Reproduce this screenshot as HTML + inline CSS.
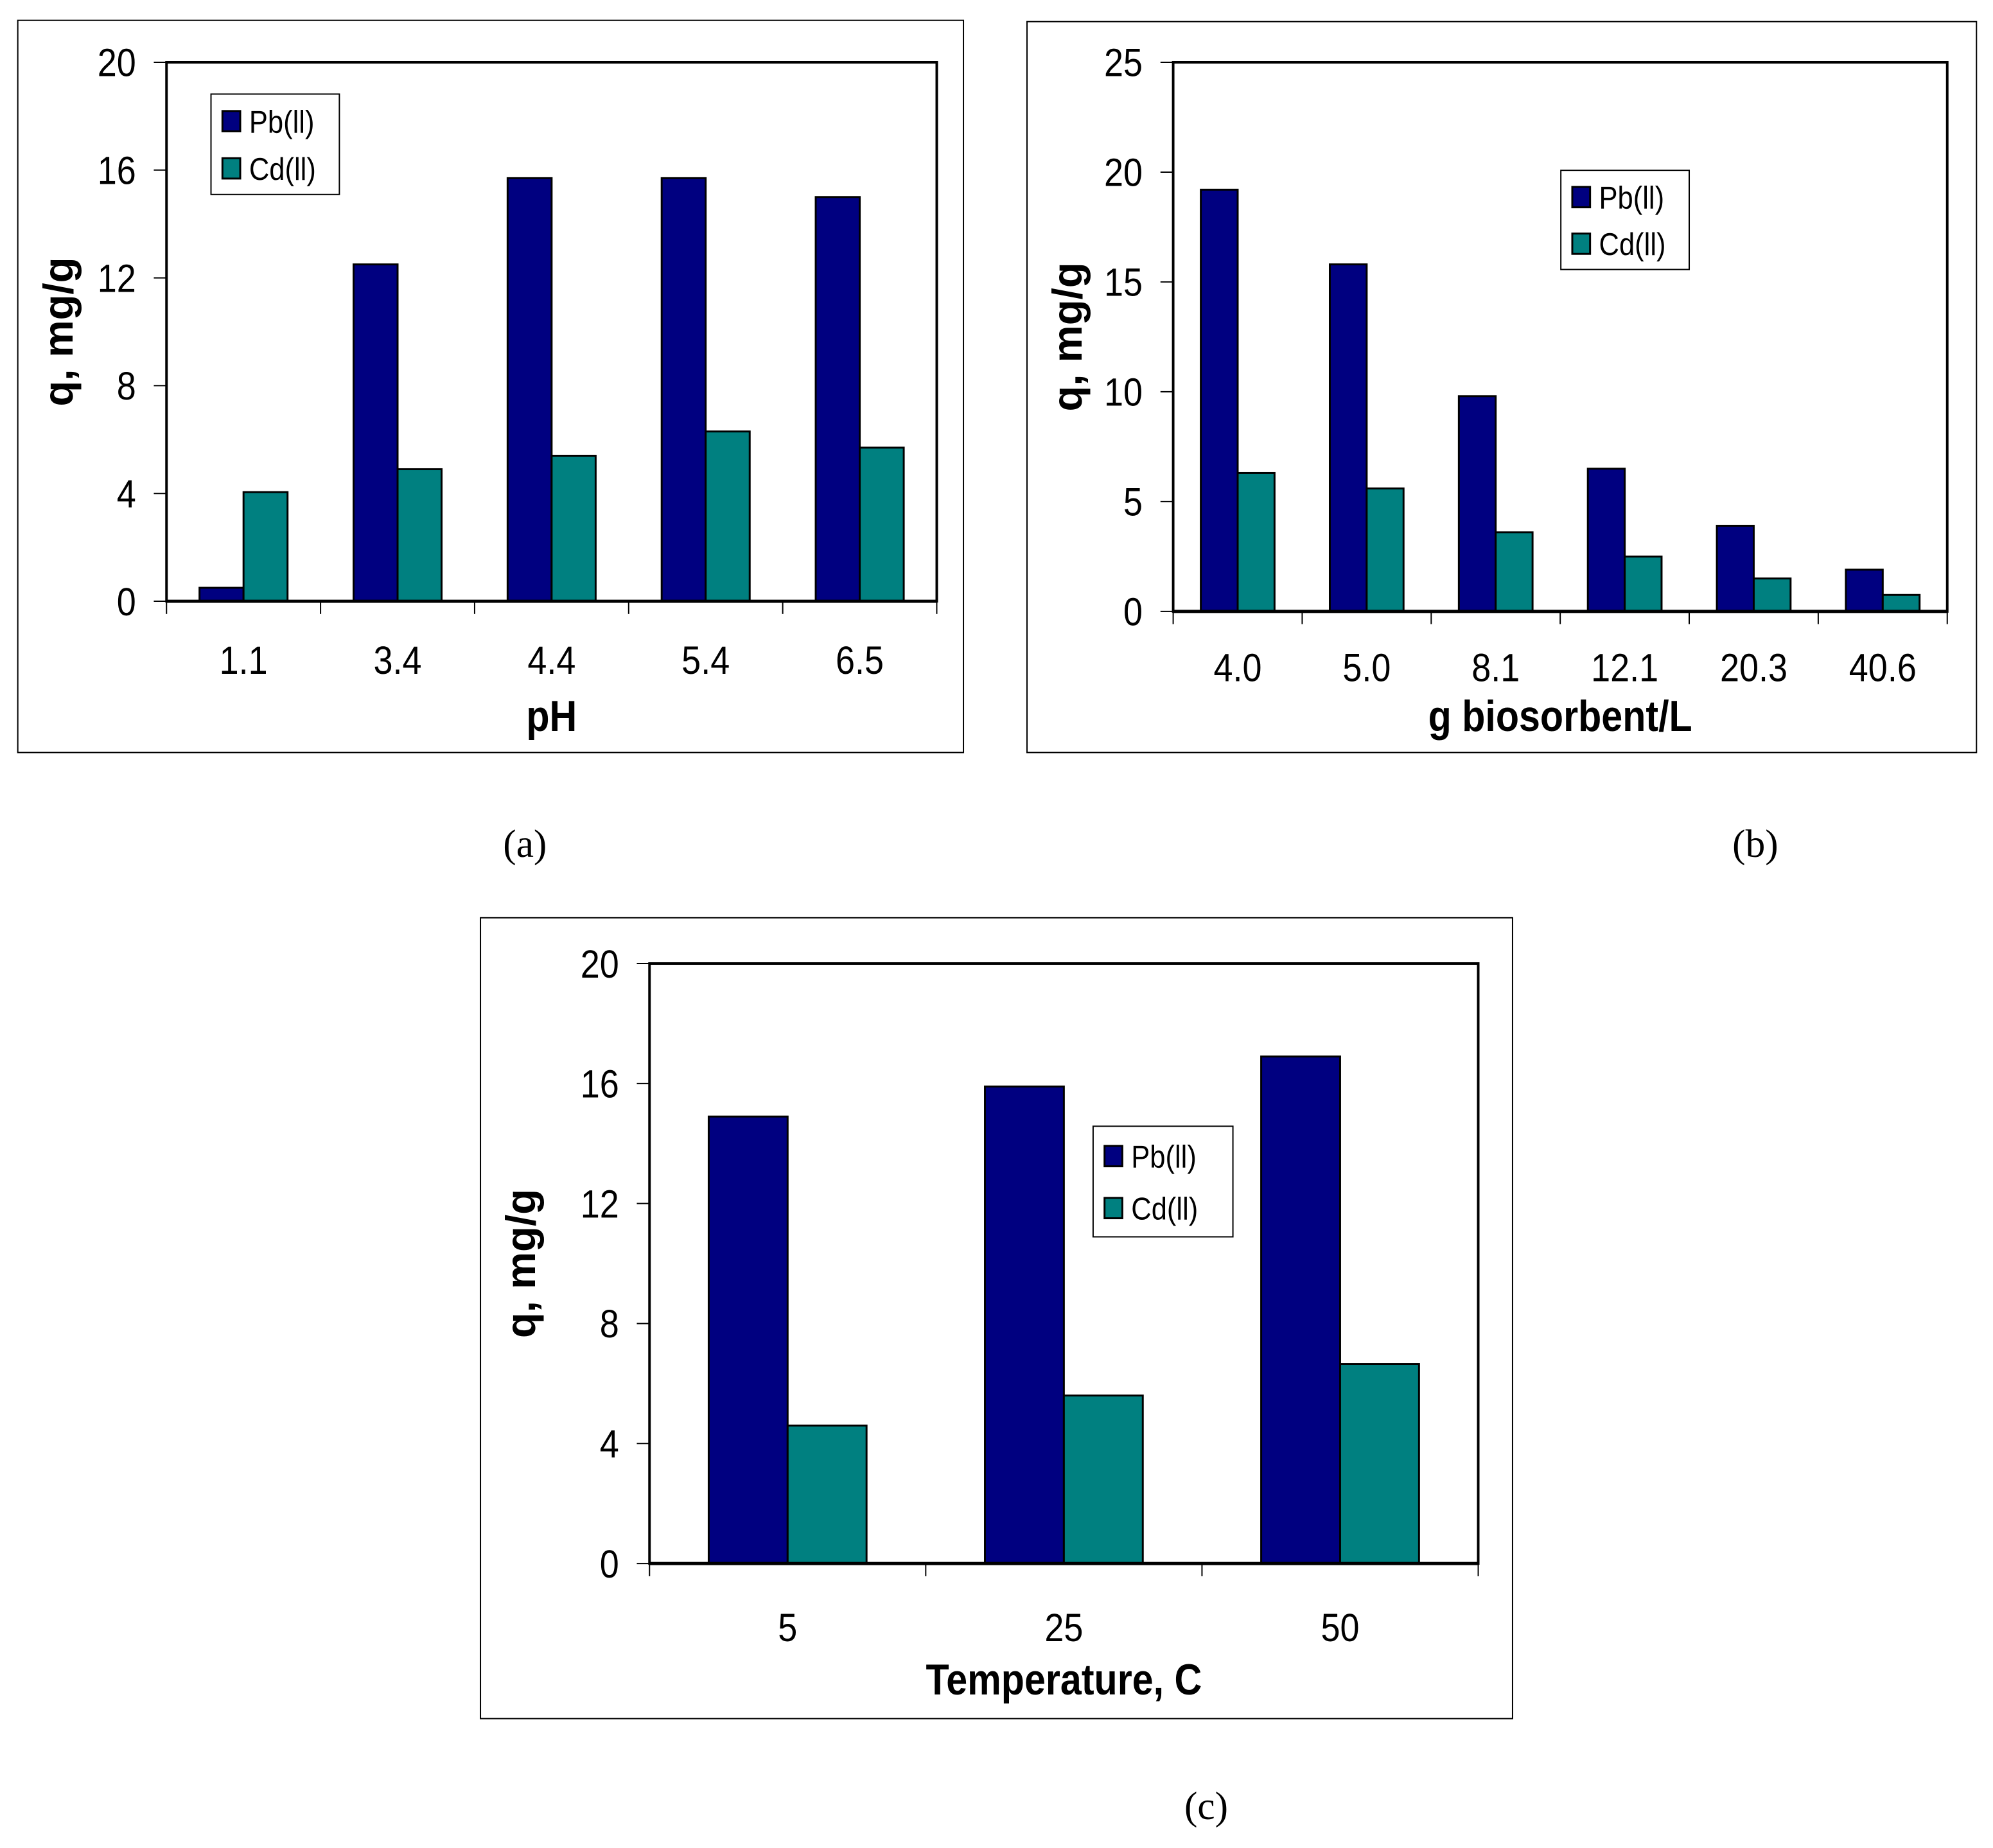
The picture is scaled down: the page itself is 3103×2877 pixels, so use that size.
<!DOCTYPE html>
<html><head><meta charset="utf-8"><style>
html,body{margin:0;padding:0;background:#fff;}
svg{display:block;}
text{font-family:"Liberation Sans",sans-serif;}
</style></head>
<body>
<svg id="fig" width="3103" height="2877" viewBox="0 0 1568 1453.8" preserveAspectRatio="none" xmlns="http://www.w3.org/2000/svg">
<text x="413" y="674" font-size="31" text-anchor="middle" style="font-family:'Liberation Serif',serif">(a)</text>
<text x="1381" y="674" font-size="31" text-anchor="middle" style="font-family:'Liberation Serif',serif">(b)</text>
<text x="949" y="1431" font-size="31" text-anchor="middle" style="font-family:'Liberation Serif',serif">(c)</text>
</svg>
<script>
const catsA = ["1.1","3.4","4.4","5.4","6.5"];
const pbA = [0.5,12.5,15.7,15.7,15.0];
const cdA = [4.05,4.9,5.4,6.3,5.7];
const ticksA = [0,4,8,12,16,20];

const catsB = ["4.0","5.0","8.1","12.1","20.3","40.6"];
const pbB = [19.2,15.8,9.8,6.5,3.9,1.9];
const cdB = [6.3,5.6,3.6,2.5,1.5,0.75];
const ticksB = [0,5,10,15,20,25];

const catsC = ["5","25","50"];
const pbC = [14.9,15.9,16.9];
const cdC = [4.6,5.6,6.65];
const ticksC = [0,4,8,12,16,20];

const NS = "http://www.w3.org/2000/svg";
const svg = document.getElementById('fig');
function mk(tag, attrs, parent){
  const e = document.createElementNS(NS, tag);
  for (const k in attrs) e.setAttribute(k, attrs[k]);
  (parent||svg).appendChild(e);
  return e;
}
function narrowText(parent, x, y, size, anchor, bold, str){
  const sx = 0.88;
  const t = mk('text', {x:x/sx, y:y, 'font-size':size, 'text-anchor':anchor, transform:'scale('+sx+',1)'}, parent);
  if (bold) t.setAttribute('font-weight','bold');
  t.textContent = str;
  return t;
}
function chart(id, box, plot, cats, pb, cd, ticks, xTitle, leg, catY, titleY){
  const g = mk('g', {});
  
  
  const frame = mk('rect', {x:box[0], y:box[1], width:box[2]-box[0], height:box[3]-box[1], fill:'#fff', stroke:'#000', 'stroke-width':1}, g);
  
  
  const [x0,y0,x1,y1] = plot;
  const ymax = ticks[ticks.length-1];
  const ys = v => y1 - (v/ymax)*(y1-y0);
  const cw = (x1-x0)/cats.length;
  const bw = cw/3.5;
  const pa = mk('rect', {x:x0, y:y0, width:x1-x0, height:y1-y0, fill:'#fff', stroke:'#000', 'stroke-width':2}, g);
  
  
  ticks.forEach(t => {
    const y = ys(t);
    const tl = mk('line', {x1:x0-10, x2:x0, y1:y, y2:y, stroke:'#000', 'stroke-width':1}, g);
    
    
    const tx = narrowText(g, x0-24, y+11, 31, 'end', false, String(t));
    
    
  });
  for (let i=0;i<=cats.length;i++){
    const x = x0 + i*cw;
    const tl = mk('line', {x1:x, x2:x, y1:y1, y2:y1+10, stroke:'#000', 'stroke-width':1}, g);
    
    
  }
  cats.forEach((c,i) => {
    const cx = x0 + (i+0.5)*cw;
    const r1 = mk('rect', {x:cx-bw, y:ys(pb[i]), width:bw, height:y1-ys(pb[i]), fill:'#000080', stroke:'#000', 'stroke-width':1.5}, g);
    
    
    const r2 = mk('rect', {x:cx, y:ys(cd[i]), width:bw, height:y1-ys(cd[i]), fill:'#008080', stroke:'#000', 'stroke-width':1.5}, g);
    
    
    const tx = narrowText(g, cx, catY+11, 31, 'middle', false, c);
    
    
  });
  const xl = mk('line', {x1:x0, x2:x1, y1:y1, y2:y1, stroke:'#000', 'stroke-width':2.5}, g);
  
  
  const xt = narrowText(g, (x0+x1)/2, titleY+12, 34, 'middle', true, xTitle);
  
  
  const yx = box[0] + 32, yy = (y0+y1)/2;
  const yt = mk('text', {x:yx, y:yy, 'font-size':33, 'font-weight':'bold', 'text-anchor':'middle', transform:'rotate(-90 '+yx+' '+yy+')', dy:'11'}, g);
  yt.textContent = 'q, mg/g';
  
  
  const lg = mk('g', {}, g);
  
  
  mk('rect', {x:leg[0], y:leg[1], width:leg[2]-leg[0], height:leg[3]-leg[1], fill:'#fff', stroke:'#000', 'stroke-width':1}, lg);
  const lh = leg[3]-leg[1];
  [['Pb(II)','#000080'],['Cd(II)','#008080']].forEach((e,k) => {
    const cy = leg[1] + lh*(k===0?0.27:0.74);
    const en = mk('g', {}, lg);
    
    
    mk('rect', {x:leg[0]+9, y:cy-8, width:14, height:16, fill:e[1], stroke:'#000', 'stroke-width':1.5}, en);
    narrowText(en, leg[0]+30, cy+9, 25, 'start', false, e[0].replace('II','ll'));
  });
}
chart('a', [14,16,758,592], [131,49,737,473], catsA, pbA, cdA, ticksA, 'pH', [166,74,267,153], 519, 563);
chart('b', [808,17,1555,592], [923,49,1532,481], catsB, pbB, cdB, ticksB, 'g biosorbent/L', [1228,134,1329,212], 525, 563);
chart('c', [378,722,1190,1352], [511,758,1163,1230], catsC, pbC, cdC, ticksC, 'Temperature, C', [860,886,970,973], 1280, 1321);
</script>
</body></html>
